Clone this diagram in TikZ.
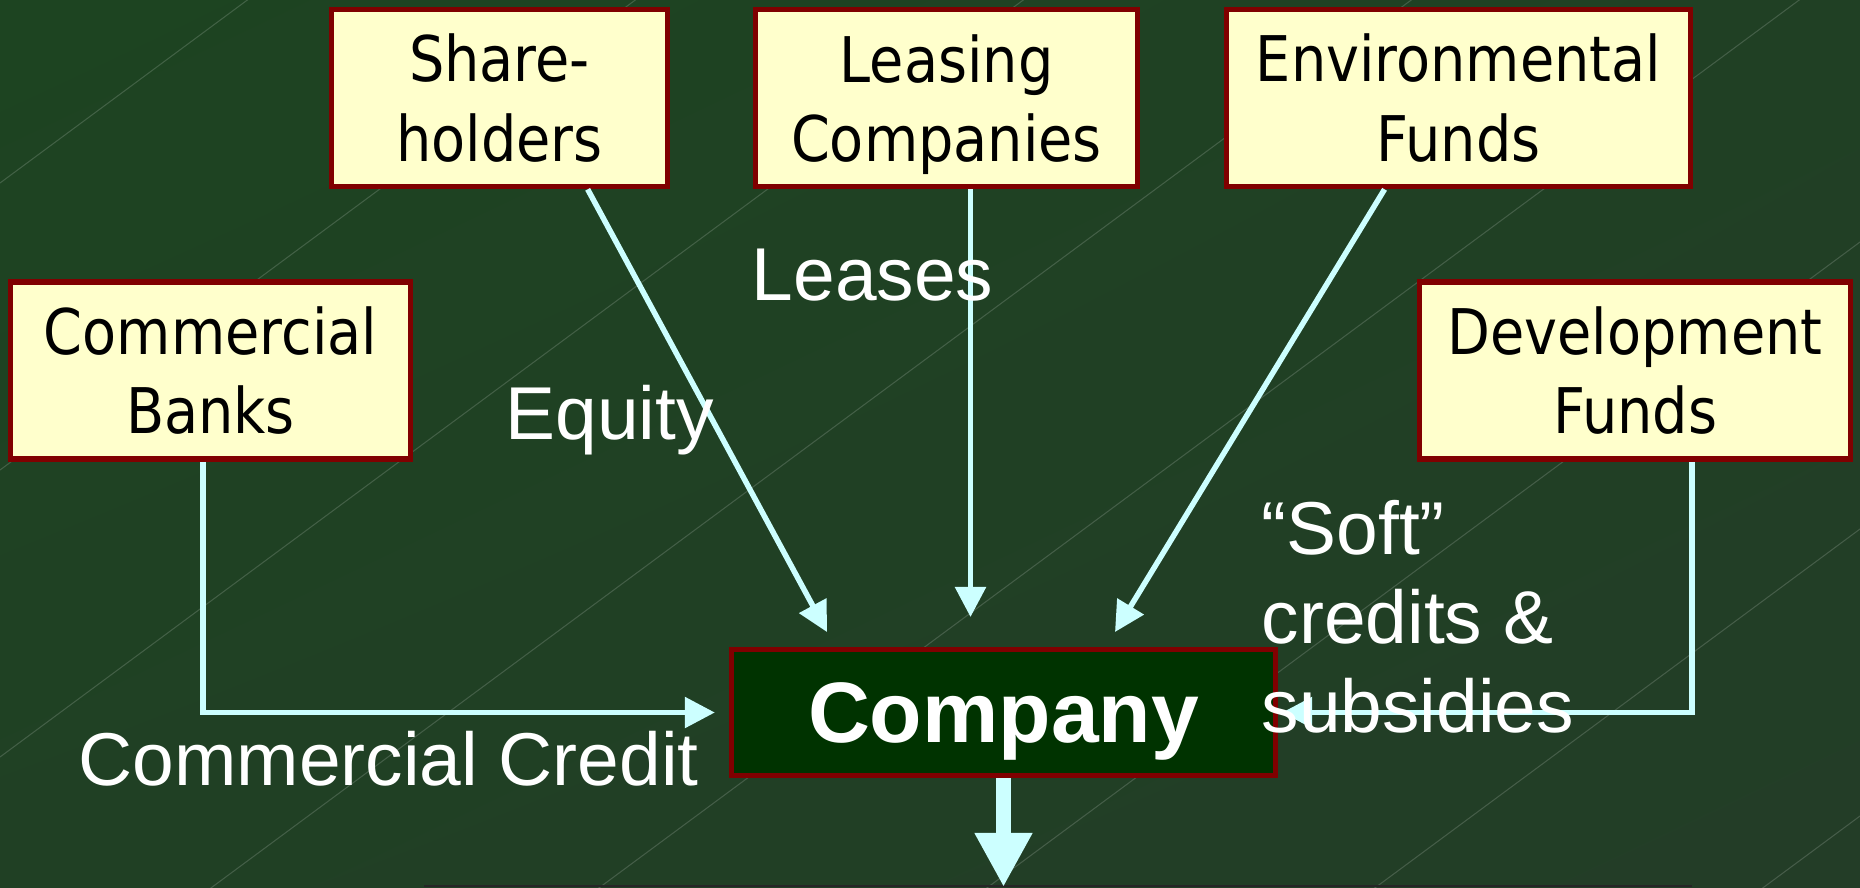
\documentclass[tikz,border=0pt]{standalone}
\usepackage{fontspec}
\setmainfont{Liberation Sans}
\newfontfamily\kastenfont[FakeStretch=0.885]{DejaVu Sans}
\usetikzlibrary{arrows.meta,shadings}

\definecolor{hintergrund}{RGB}{32,64,36}
\definecolor{hgoben}{RGB}{29,68,33}
\definecolor{hgunten}{RGB}{35,61,39}
\definecolor{kastengelb}{RGB}{255,255,204}
\definecolor{rahmenrot}{RGB}{128,0,0}
\definecolor{firmengruen}{RGB}{0,51,0}
\definecolor{pfeilblau}{RGB}{204,255,255}

\tikzset{
	quelle/.style={draw=rahmenrot, line width=0.055cm, fill=kastengelb,
		align=center, inner sep=0pt, minimum height=1.77cm,
		font=\kastenfont\fontsize{17.9}{22.5}\selectfont},
	fluss/.style={draw=pfeilblau, line width=0.055cm,
		-{Triangle[length=0.3cm,width=0.3cm]}},
	beschriftung/.style={text=white, inner sep=0pt,
		font=\fontsize{21.3}{25.2}\selectfont},
}

\begin{document}
\begin{tikzpicture}[x=0.01cm, y=-0.01cm]
	\useasboundingbox (0,0) rectangle (1860,887);
	% Hintergrund mit Schraeglinien
	\shade[upper left=hgoben, lower right=hgunten, upper right=hintergrund,
		lower left=hintergrund] (0,0) rectangle (1860,887);
	\begin{scope}
		\clip (0,0) rectangle (1860,887);
		\foreach \c in {183,470,...,2192}
			\draw[white, opacity=0.16, line width=0.3pt] (0,\c) -- (1860,\c-1376);
	\end{scope}
	\draw[black!85, line width=0.02cm] (424,886) -- (1692,886);

	% Geldgeber
	\node[quelle, minimum width=3.355cm] (aktionaere) at (499.5,98) {Share-\\holders};
	\node[quelle, minimum width=3.815cm] (leasing) at (946.5,98)
		{\rule{0pt}{0.97em}Leasing\\Companies};
	\node[quelle, minimum width=4.635cm] (umwelt) at (1458.5,98) {Environmental\\Funds};
	\node[quelle, minimum width=3.995cm] (banken) at (210.5,370.5) {Commercial\\Banks};
	\node[quelle, minimum width=4.305cm] (entwicklung) at (1635,370.5) {Development\\Funds};

	% Unternehmen
	\node[draw=rahmenrot, line width=0.055cm, fill=firmengruen, text=white,
		inner sep=0pt, text depth=0pt, minimum width=5.435cm, minimum height=1.255cm,
		font=\fontsize{24.4}{29}\selectfont\bfseries] (firma) at (1003.5,712.5) {Company};

	% Geldfluesse
	\coordinate (eqspitze) at (827,632);
	\coordinate (lsspitze) at (970.5,617);
	\coordinate (umspitze) at (1115,632);
	\draw[fluss] (aktionaere.-46) -- (eqspitze);
	\draw[fluss] (leasing.south -| lsspitze) -- (lsspitze);
	\draw[fluss] (umwelt.-129) -- (umspitze);
	\draw[fluss, shorten >=0.14cm] ([xshift=-0.075cm]banken.south) |- (firma.west);
	\draw[fluss, shorten >=0.04cm] (entwicklung.-58.7) |- (firma.east);

	% Pfeil nach unten
	\coordinate (ausgang) at (1003.5,887);
	\draw[pfeilblau, line width=0.153cm, -{Triangle[length=0.54cm,width=0.54cm]}]
		(firma.south) -- (ausgang);

	% Beschriftungen
	\node[beschriftung, anchor=base west] (eigenkapital) at (505,439) {Equity};
	\node[beschriftung, anchor=base west] (leases) at (751,300) {Leases};
	\node[beschriftung, anchor=base west] (kredit) at (78,785) {Commercial Credit};
	\node[beschriftung, anchor=north west, align=left] (foerderung) at (1261,500)
		{“Soft”\\credits \&\\subsidies};
\end{tikzpicture}
\end{document}
